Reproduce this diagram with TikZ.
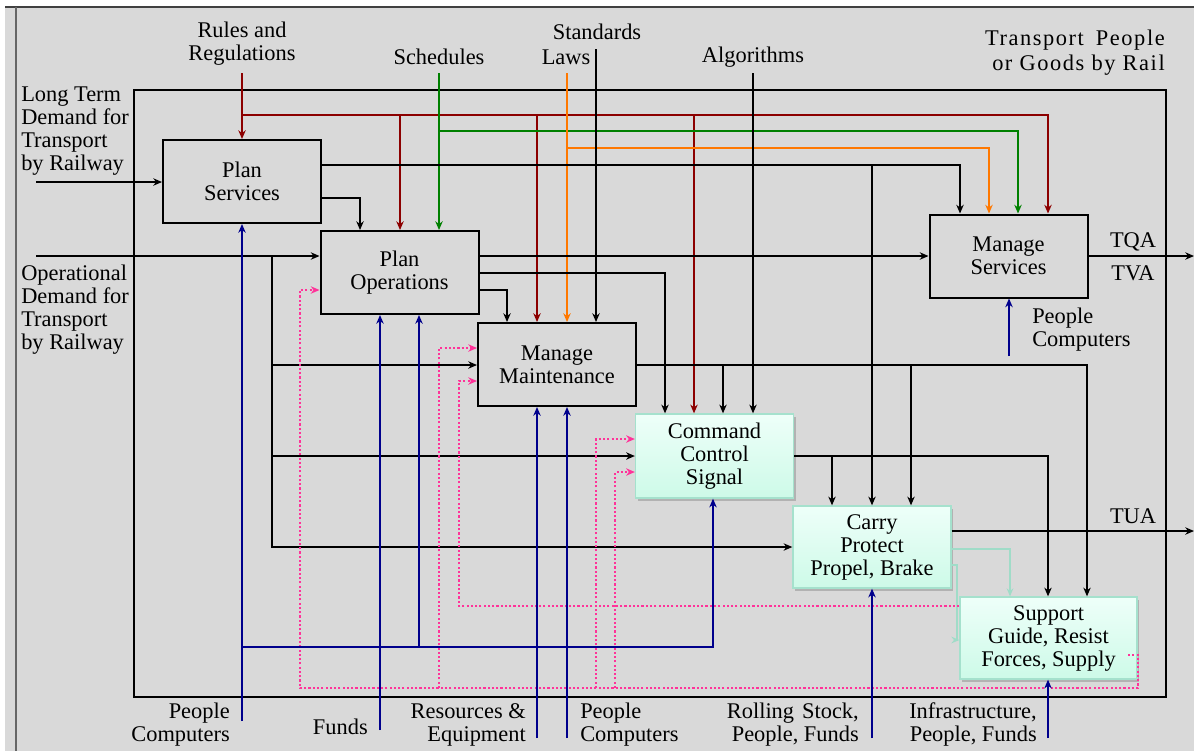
\documentclass[tikz,border=0pt]{standalone}
\usepackage{fontspec}
\setmainfont{Liberation Serif}
\newfontfamily\widefont[LetterSpace=7]{Liberation Serif}
\usetikzlibrary{arrows.meta,shadows}
\definecolor{bg}{RGB}{217,217,217}
\definecolor{ctrlred}{RGB}{140,0,0}
\definecolor{ctrlgreen}{RGB}{0,128,0}
\definecolor{ctrlorange}{RGB}{255,120,0}
\definecolor{mechblue}{RGB}{0,0,140}
\definecolor{fbpink}{RGB}{255,51,153}
\definecolor{mintline}{RGB}{160,220,200}
\definecolor{mintedge}{RGB}{165,225,205}
\definecolor{minttop}{RGB}{238,255,249}
\definecolor{mintbot}{RGB}{205,250,232}

\begin{document}
\begin{tikzpicture}[x=0.75pt,y=-0.75pt,
  txt/.style={font=\fontsize{16.8}{17.25}\selectfont, inner sep=0pt, align=center},
  act/.style={txt, draw, line width=1.5pt, fill=bg,
    minimum width=118.5pt, minimum height=62.25pt},
  mint/.style={txt, draw=mintedge, line width=1pt,
    top color=minttop, bottom color=mintbot,
    drop shadow={shadow xshift=1.5pt, shadow yshift=-2.5pt, fill=black!45},
    minimum width=118.5pt, minimum height=61.5pt},
  wire/.style={line width=1.4pt},
  flow/.style={wire, -{Stealth[length=6.5pt,width=5.5pt,inset=2pt]}},
  fb/.style={fbpink, line width=1.4pt, dash pattern=on 1.6pt off 1.6pt},
  fbarrow/.style={fb, -{Stealth[length=6.5pt,width=5.5pt,inset=2pt]}},
  mintflow/.style={mintline, line width=1.1pt, -{Stealth[length=6pt,width=5pt,inset=2pt]}},
]
\useasboundingbox (0,0) rectangle (1194,751);

% page background and frames
\fill[white] (0,0) rectangle (1194,751);
\fill[bg] (5,7) rectangle (1194,751);
\draw[black!75, line width=0.8pt] (5,7) -- (1194,7);
\draw[black!60, line width=0.8pt] (16,7) -- (16,751);
\draw[line width=1.5pt] (134,90) rectangle (1166,697);

% activities
\node[act] (ps) at (242,181.5) {Plan\\Services};
\node[act] (po) at (399.5,272.5) {Plan\\Operations};
\node[act] (mm) at (557,364.5) {Manage\\Maintenance};
\node[act] (ms) at (1008.5,256) {Manage\\Services};
\node[mint, minimum height=63pt] (ccs) at (714.5,456) {Command\\Control\\Signal};
\node[mint] (cpb) at (872,547) {Carry\\Protect\\Propel, Brake};
\node[mint, minimum width=132.75pt] (sup) at (1048.5,638) {Support\\Guide, Resist\\Forces, Supply};

% free ends of the boundary arrows
\coordinate (rulesIn) at (242,73);
\coordinate (schedIn) at (439,73);
\coordinate (lawsIn)  at (567,73);
\coordinate (stdIn)   at (596,49);
\coordinate (algIn)   at (753,73);
\coordinate (ltdIn)   at (36,182);
\coordinate (opdIn)   at (36,256);
\coordinate (tqaOut)  at (1194,256);
\coordinate (tuaOut)  at (1194,531);
\coordinate (pc1In)   at (242,721);
\coordinate (fundsIn) at (380,730);
\coordinate (resIn)   at (537,738);
\coordinate (pc2In)   at (567,738);
\coordinate (rsIn)    at (872,738);
\coordinate (infIn)   at (1048,738);
\coordinate (pc3In)   at (1009,356);

% controls: rules and regulations
\draw[flow, ctrlred] (rulesIn) -- (ps.north);
\draw[flow, ctrlred] (242,115) -| (ms.north -| 1048,0);
\draw[flow, ctrlred] (400,115) -- (po.north -| 400,0);
\draw[flow, ctrlred] (537,115) -- (mm.north -| 537,0);
\draw[flow, ctrlred] (694,115) -- (ccs.north -| 694,0);
% schedules
\draw[flow, ctrlgreen] (schedIn) -- (po.north -| 439,0);
\draw[flow, ctrlgreen] (439,131) -| (ms.north -| 1018,0);
% laws
\draw[flow, ctrlorange] (lawsIn) -- (mm.north -| 567,0);
\draw[flow, ctrlorange] (567,148) -| (ms.north -| 989,0);
% standards and algorithms
\draw[flow] (stdIn) -- (mm.north -| 596,0);
\draw[flow] (algIn) -- (ccs.north -| 753,0);

% demand inputs
\draw[flow] (ltdIn) -- (ps.west |- 0,182);
\draw[flow] (opdIn) -- (po.west |- 0,256);
\draw[flow] (272,256) |- (cpb.west);
\draw[flow] (272,365) -- (mm.west |- 0,365);
\draw[flow] (272,456) -- (ccs.west);

% plan services outputs
\draw[flow] (ps.east |- 0,165) -| (ms.north -| 960,0);
\draw[flow] (872,165) -- (cpb.north);
\draw[flow] (ps.east |- 0,198) -| (po.north -| 360,0);

% plan operations outputs
\draw[flow] (po.east |- 0,256) -- (ms.west);
\draw[flow] (po.east |- 0,273) -| (ccs.north -| 665,0);
\draw[flow] (po.east |- 0,290) -| (mm.north -| 507,0);

% manage maintenance outputs
\draw[flow] (mm.east |- 0,365) -| (sup.north -| 1087,0);
\draw[flow] (723,365) -- (ccs.north -| 723,0);
\draw[flow] (911,365) -- (cpb.north -| 911,0);

% command control signal outputs
\draw[flow] (ccs.east) -| (sup.north -| 1048,0);
\draw[flow] (832,456) -- (cpb.north -| 832,0);

% outputs of the system
\draw[flow] (ms.east) -- (tqaOut);
\draw[flow] (cpb.east |- 0,531) -- (tuaOut);

% carry to support
\draw[mintflow] (cpb.east |- 0,549) -| (sup.north -| 1010,0);
\draw[mintflow] (cpb.east |- 0,565) -- (957,565) -- (957,640) -- (sup.west |- 966,640);

% feedback (dotted)
\draw[fbarrow] (1128,655) -- (1138,655) -- (1138,688) -| (300,290) -- (po.west |- 0,290);
\draw[fbarrow] (439,688) |- (mm.west |- 0,348);
\draw[fbarrow] (596,688) |- (ccs.west |- 0,439);
\draw[fbarrow] (615,688) |- (ccs.west |- 0,472);
\draw[fbarrow] (sup.west |- 0,606) -| (459,381) -- (mm.west |- 0,381);

% mechanisms
\draw[flow, mechblue] (pc1In) -- (ps.south);
\draw[flow, mechblue] (242,647) -| (ccs.south -| 713,0);
\draw[flow, mechblue] (fundsIn) -- (po.south -| 380,0);
\draw[flow, mechblue] (419,647) -- (po.south -| 419,0);
\draw[flow, mechblue] (resIn) -- (mm.south -| 537,0);
\draw[flow, mechblue] (pc2In) -- (mm.south -| 567,0);
\draw[flow, mechblue] (rsIn) -- (cpb.south);
\draw[flow, mechblue] (infIn) -- (sup.south -| 1048,0);
\draw[flow, mechblue] (pc3In) -- (ms.south -| 1009,0);

% labels
\node[txt] (rulesLbl) at (242,44) {Rules and\\Regulations};
\node[txt] (schedLbl) at (439,57) {Schedules};
\node[txt] (stdLbl) at (597,32) {Standards};
\node[txt] (lawsLbl) at (566,57) {Laws};
\node[txt] (algLbl) at (753,57) {Algorithms};
\node[txt, align=right, anchor=east, font=\widefont\fontsize{16.8}{18.75}\selectfont] (sysLbl) at (1165,53) {Transport\hspace{9pt}People\\or Goods by Rail};
\node[txt, align=left, anchor=west] (ltdLbl) at (21,131.5) {Long Term\\Demand for\\Transport\\by Railway};
\node[txt, align=left, anchor=west] (opdLbl) at (21,309.5) {Operational\\Demand for\\Transport\\by Railway};
\node[txt] (tqaLbl) at (1133,242) {TQA};
\node[txt] (tvaLbl) at (1133,273) {TVA};
\node[txt] (tuaLbl) at (1133,516) {TUA};
\node[txt, align=left, anchor=west] (pc3Lbl) at (1032,329.5) {People\\Computers};
\node[txt, align=right, anchor=east] (pc1Lbl) at (230,724.5) {People\\Computers};
\node[txt, anchor=east] (fundsLbl) at (368,727) {Funds};
\node[txt, align=right, anchor=east] (resLbl) at (526,724.5) {Resources \&\\Equipment};
\node[txt, align=left, anchor=west] (pc2Lbl) at (580,724.5) {People\\Computers};
\node[txt, align=right, anchor=east] (rsLbl) at (859,724.5) {Rolling\hspace{6pt}Stock,\\People, Funds};
\node[txt, align=right, anchor=east] (infLbl) at (1037,724.5) {Infrastructure,\\People, Funds};
\end{tikzpicture}
\end{document}
